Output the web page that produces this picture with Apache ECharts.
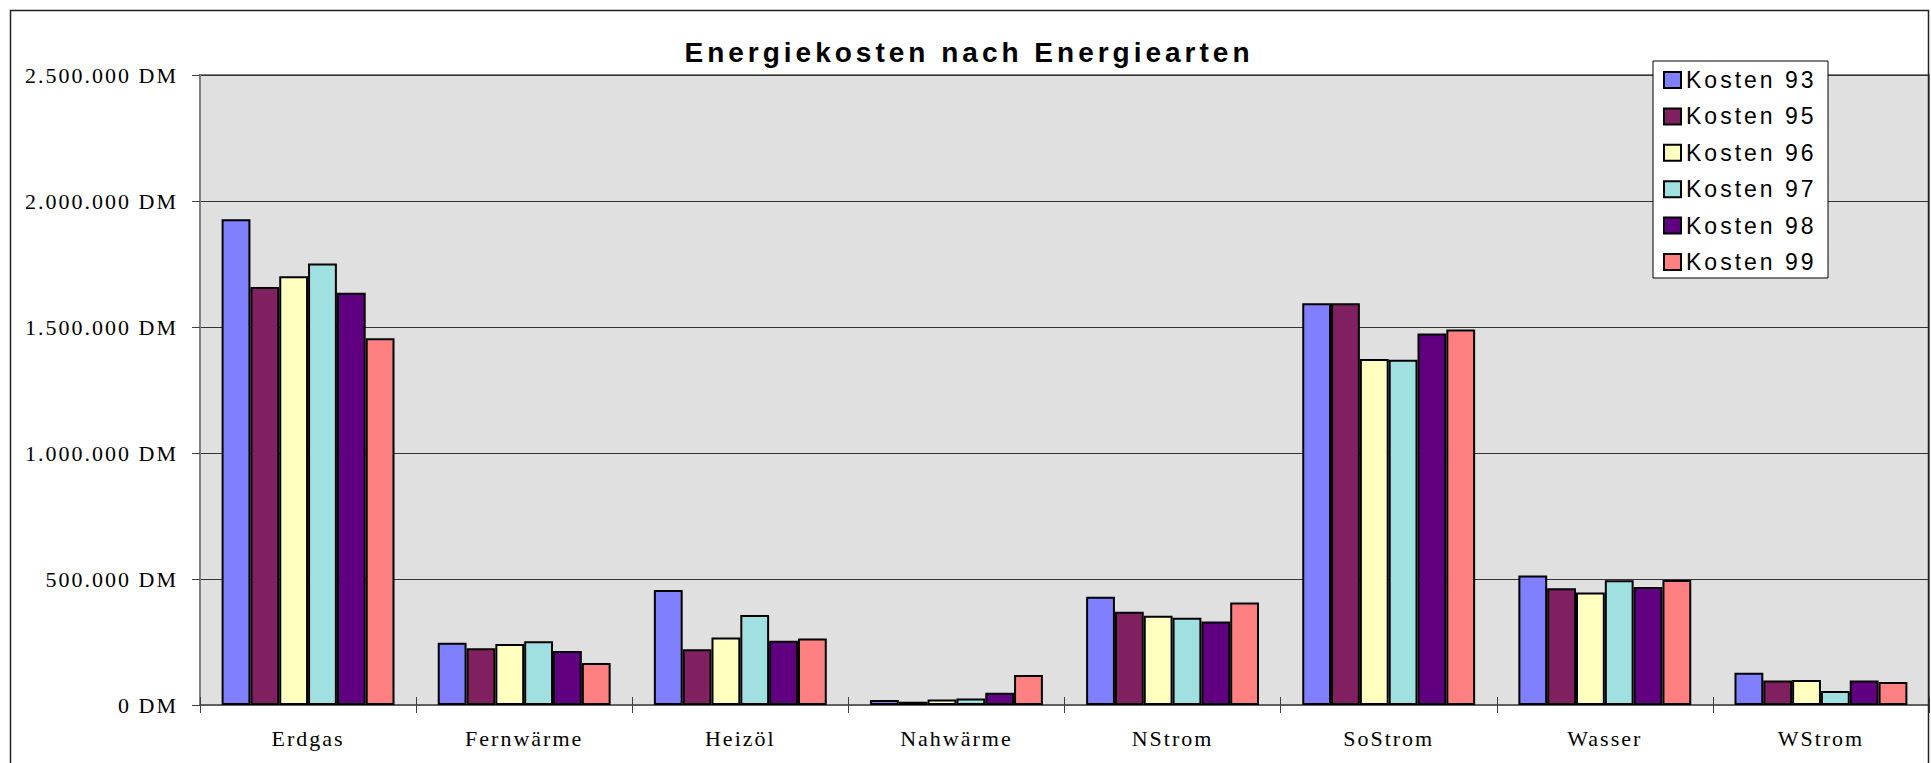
<!DOCTYPE html>
<html>
<head>
<meta charset="utf-8">
<script src="https://cdn.jsdelivr.net/npm/echarts@6/dist/echarts.min.js"></script>
<style>
html,body{margin:0;padding:0;background:#fff;}
#chart{width:1931px;height:763px;}
#chart text{letter-spacing:2px;}
</style>
</head>
<body>
<div id="chart"></div>
<script>
const categories = ['Erdgas','Fernwärme','Heizöl','Nahwärme','NStrom','SoStrom','Wasser','WStrom'];
const seriesNames = ['Kosten 93','Kosten 95','Kosten 96','Kosten 97','Kosten 98','Kosten 99'];
const kosten93 = [1928000, 247000, 456000, 20000, 430000, 1594000, 514000, 128000];
const kosten95 = [1659000, 225000, 221000, 13000, 370000, 1594000, 463000, 97000];
const kosten96 = [1701000, 242000, 268000, 22000, 354000, 1373000, 446000, 99000];
const kosten97 = [1752000, 253000, 357000, 26000, 346000, 1370000, 495000, 56000];
const kosten98 = [1636000, 214000, 255000, 49000, 331000, 1474000, 468000, 97000];
const kosten99 = [1455000, 167000, 264000, 119000, 407000, 1490000, 496000, 91000];
const colors = ['#8080FF','#802060','#FFFFC0','#A0E0E0','#600080','#FF8080'];
const titleText = 'Energiekosten nach Energiearten';

const allData = [kosten93, kosten95, kosten96, kosten97, kosten98, kosten99];

function fmtDM(v){
  return String(Math.round(v)).replace(/\B(?=(\d{3})+(?!\d))/g, '.') + ' DM';
}

const SERIF = '"Liberation Serif", "Times New Roman", serif';
const SANS = '"Liberation Sans", Arial, sans-serif';

const chart = echarts.init(document.getElementById('chart'), null, {renderer: 'svg'});
const option = {
  animation: false,
  backgroundColor: '#fff',
  graphic: [
    {type: 'rect', shape: {x: 10.5, y: 10.5, width: 1918, height: 800}, style: {fill: 'none', stroke: '#222', lineWidth: 1.5}, z: 100, silent: true},
    {type: 'text', x: 969, y: 52, style: {text: titleText, font: 'bold 28px ' + SANS, fill: '#000', textAlign: 'center', textVerticalAlign: 'middle'}, z: 100}
  ],
  grid: {
    left: 200, right: 2, top: 75, bottom: 58,
    show: true, backgroundColor: '#E0E0E0', borderColor: '#808080', borderWidth: 2
  },
  legend: {
    orient: 'vertical',
    left: 1653, top: 61,
    padding: [7.5, 12, 4.5, 10],
    backgroundColor: '#fff', borderColor: '#000', borderWidth: 1,
    itemWidth: 17, itemHeight: 16, itemGap: 13.4,
    icon: 'rect',
    textStyle: {fontFamily: SANS, fontSize: 23, lineHeight: 23, color: '#000', width: 130},
    data: seriesNames
  },
  xAxis: [
    {
      type: 'category', data: categories, gridIndex: 0, position: 'bottom',
      axisLine: {show: true, lineStyle: {color: '#606060', width: 2}},
      axisTick: {show: true, length: 8, lineStyle: {color: '#404040', width: 1}},
      axisLabel: {fontFamily: SERIF, fontSize: 22, color: '#000', margin: 22},
      splitLine: {show: false}
    },
    {
      type: 'category', data: categories, gridIndex: 0, position: 'bottom',
      axisLine: {show: false},
      axisTick: {show: true, inside: true, length: 8, lineStyle: {color: '#404040', width: 1}},
      axisLabel: {show: false},
      splitLine: {show: false}
    }
  ],
  yAxis: {
    type: 'value', min: 0, max: 2500000, interval: 500000,
    axisLine: {show: true, lineStyle: {color: '#808080', width: 2}},
    axisTick: {show: true, length: 8, lineStyle: {color: '#404040', width: 1}},
    axisLabel: {fontFamily: SERIF, fontSize: 22, color: '#000', margin: 22, formatter: fmtDM},
    splitLine: {show: true, lineStyle: {color: '#333333', width: 1}}
  },
  series: seriesNames.map((name, i) => ({
    name: name,
    type: 'bar',
    xAxisIndex: 0,
    data: allData[i],
    barGap: '0%',
    barCategoryGap: '20%',
    itemStyle: {color: colors[i], borderColor: '#000', borderWidth: 2}
  }))
};
chart.setOption(option);

function applySpacing(){
  document.querySelectorAll('#chart text').forEach(t => {
    const s = t.textContent || '';
    let ls = '2px';
    if (s.indexOf('Energiekosten') === 0) ls = '4px';
    else if (s.indexOf('Kosten') === 0) ls = '3px';
    t.style.letterSpacing = ls;
  });
}
applySpacing();
chart.on('finished', applySpacing);
</script>
</body>
</html>
